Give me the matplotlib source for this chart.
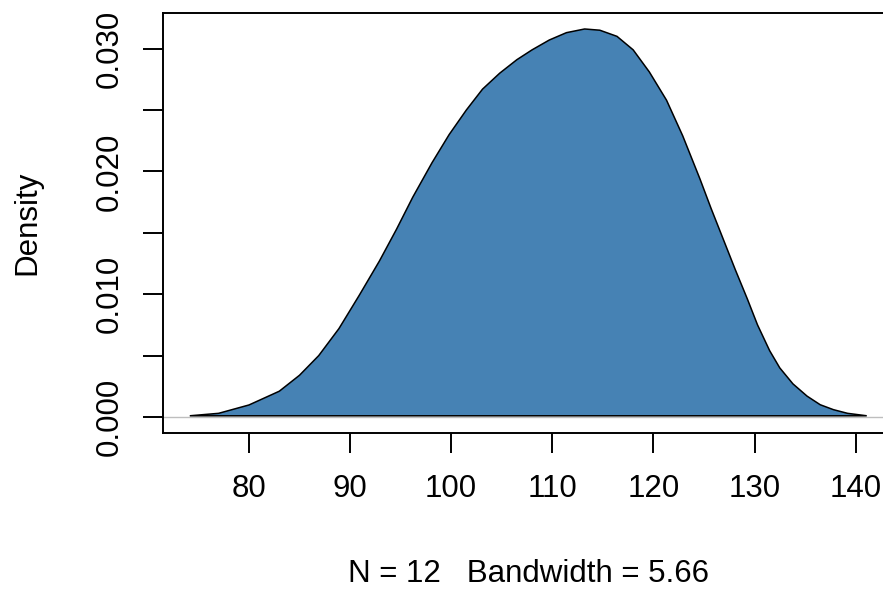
import matplotlib
matplotlib.use("Agg")
import matplotlib.pyplot as plt

# density curve (x value, density)
dens_x = [74.15, 77.0, 80.0, 83.0, 85.0, 86.9, 88.9, 90.9, 92.9, 94.6,
          96.2, 98.1, 99.8, 101.5, 103.1, 104.8, 106.5, 108.0, 109.7, 111.4,
          113.2, 114.7, 116.4, 118.0, 119.6, 121.3, 122.9, 124.6, 125.7, 126.9,
          128.1, 129.3, 130.3, 131.5, 132.5, 133.8, 135.2, 136.5, 137.8, 139.2,
          141.1]
dens_y = [0.0001, 0.0003, 0.00098, 0.0021, 0.0034, 0.0050, 0.0072, 0.0099, 0.0127, 0.0153,
          0.0179, 0.0207, 0.0230, 0.0250, 0.0267, 0.0280, 0.0291, 0.0299, 0.0307, 0.0313,
          0.0316, 0.0315, 0.0310, 0.0299, 0.0281, 0.0258, 0.0229, 0.0194, 0.0170, 0.0145,
          0.0120, 0.0096, 0.0075, 0.0054, 0.0040, 0.0027, 0.0017, 0.0010, 0.0006, 0.0003,
          0.0001]

x_ticks = [80, 90, 100, 110, 120, 130, 140]
y_ticks = [0.000, 0.005, 0.010, 0.015, 0.020, 0.025, 0.030]
y_labels = ["0.000", "", "0.010", "", "0.020", "", "0.030"]
xlab = "N = 12   Bandwidth = 5.66"

plt.rcParams['font.family'] = ['Liberation Sans', 'DejaVu Sans']

fig = plt.figure(figsize=(8.83, 5.89), dpi=100)
ax = fig.add_axes([0.1846, 0.2649, 0.8279, 0.713])

ax.axhline(0, color="#bebebe", lw=1.0, zorder=1)
ax.fill(dens_x, dens_y, facecolor="#4682B4", edgecolor="black", lw=1.1, zorder=2)

ax.set_xlim(71.5, 143.8)
ax.set_ylim(-0.0013, 0.0329)
ax.set_xticks(x_ticks)
ax.set_yticks(y_ticks)
ax.set_yticklabels(y_labels, rotation=90, va="center")

for s in ax.spines.values():
    s.set_linewidth(1.4)
ax.tick_params(axis="both", length=14.4, width=1.4, labelsize=22.5, pad=15)
ax.tick_params(axis="y", pad=13)

ax.set_xlabel(xlab, fontsize=22.5, labelpad=40)
ax.set_ylabel("Density", fontsize=22.5, labelpad=38)

fig.savefig("out.png", dpi=100)
